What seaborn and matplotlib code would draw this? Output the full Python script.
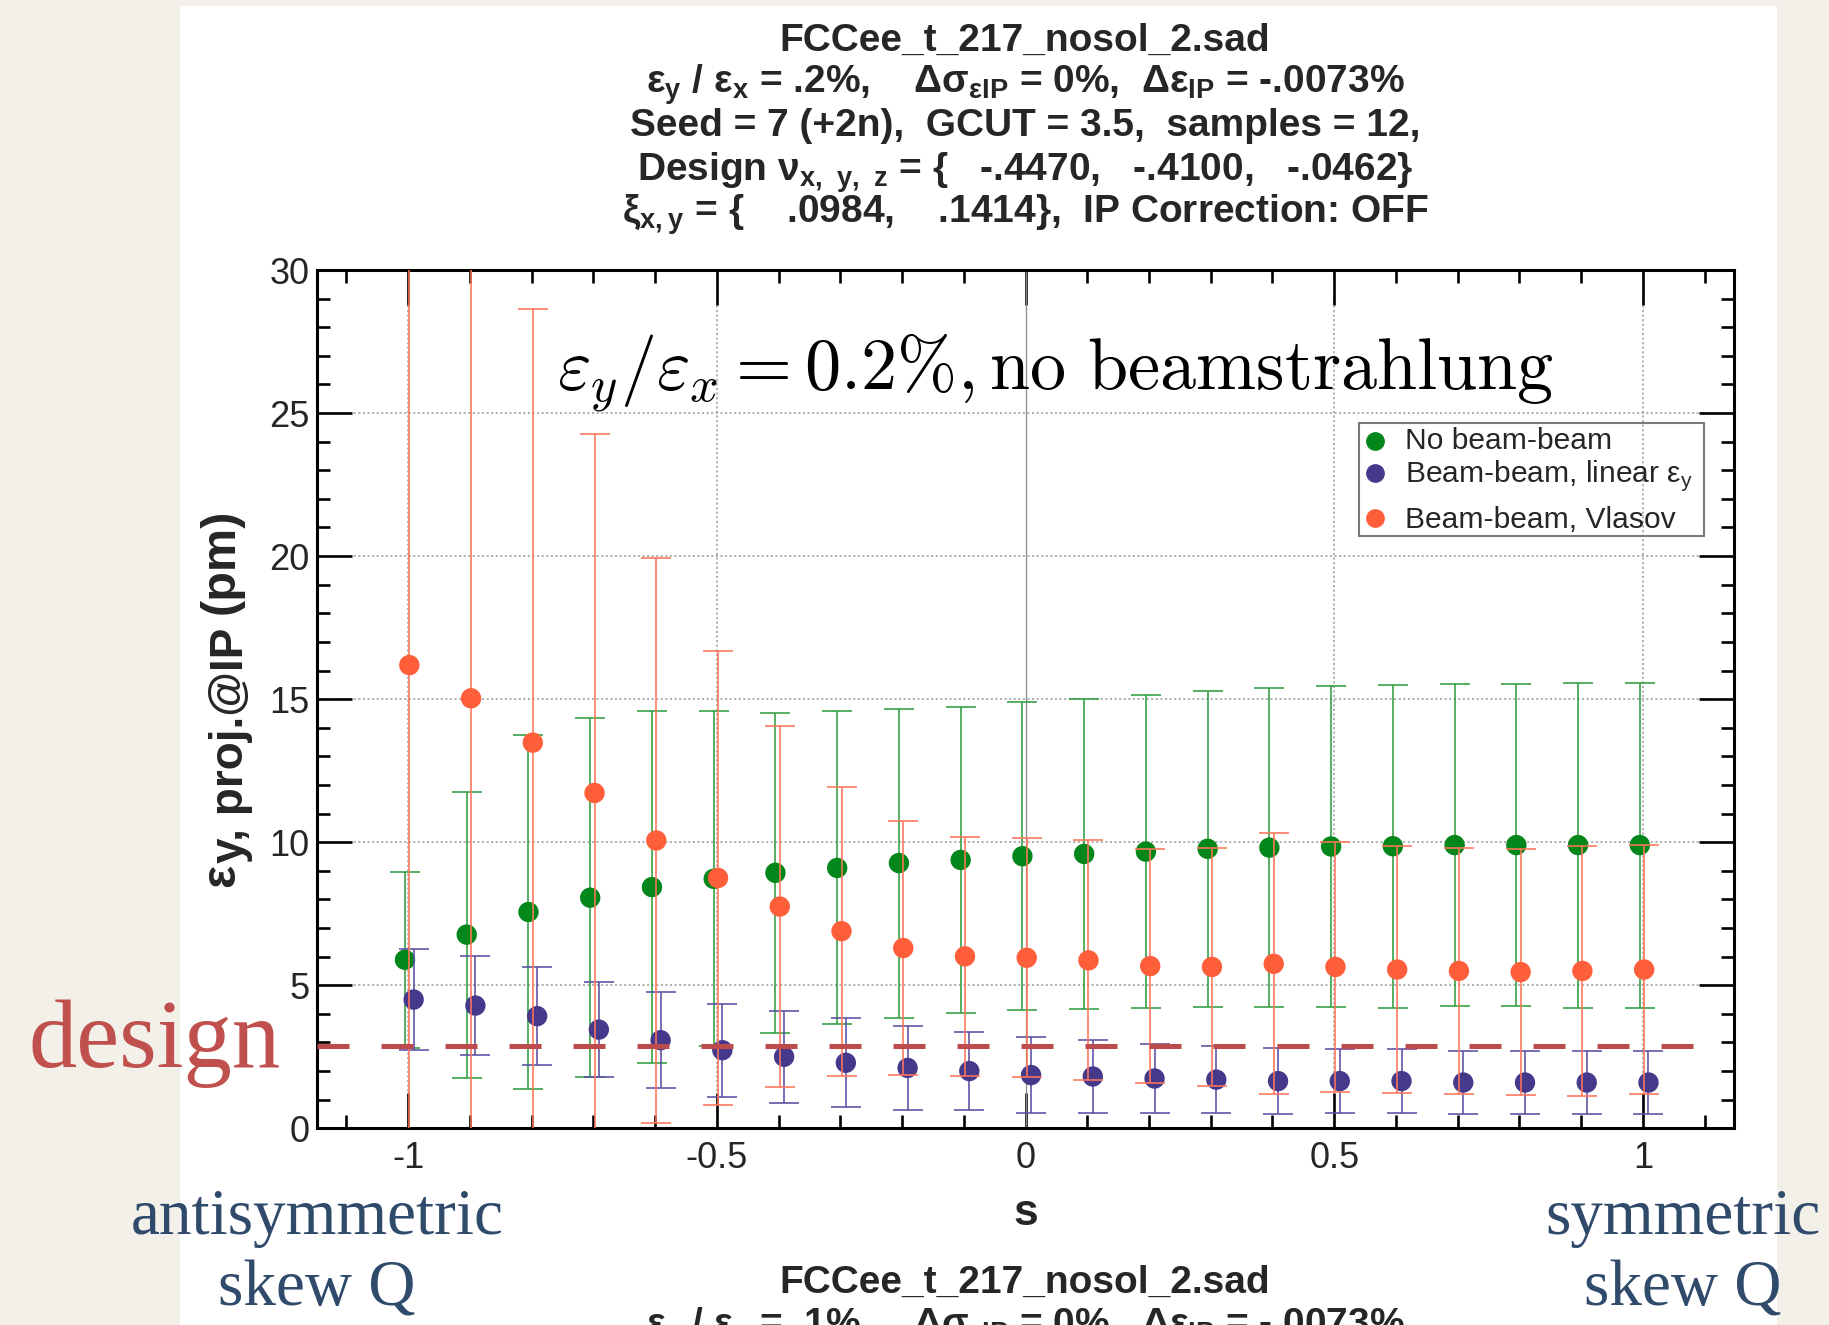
import numpy as np
import pandas as pd
import matplotlib
matplotlib.use("Agg")
import matplotlib.pyplot as plt
import seaborn as sns
from matplotlib.patches import Rectangle
from matplotlib.transforms import IdentityTransform

# ---- data -----------------------------------------------------------------
s_values = [-1.0, -0.9, -0.8, -0.7, -0.6, -0.5, -0.4, -0.3, -0.2, -0.1, 0.0,
            0.1, 0.2, 0.3, 0.4, 0.5, 0.6, 0.7, 0.8, 0.9, 1.0]

no_bb = [5.89, 6.77, 7.56, 8.06, 8.43, 8.72, 8.93, 9.10, 9.27, 9.38, 9.51,
         9.59, 9.67, 9.77, 9.81, 9.85, 9.86, 9.90, 9.90, 9.90, 9.90]
no_bb_err = [3.08, 5.00, 6.18, 6.27, 6.14, 5.85, 5.60, 5.47, 5.40, 5.35, 5.38,
             5.43, 5.46, 5.53, 5.57, 5.61, 5.64, 5.64, 5.64, 5.68, 5.68]

bb_linear = [4.50, 4.29, 3.92, 3.45, 3.08, 2.73, 2.50, 2.29, 2.11, 2.00, 1.86,
             1.81, 1.74, 1.70, 1.65, 1.65, 1.65, 1.60, 1.60, 1.60, 1.60]
bb_linear_err = [1.75, 1.72, 1.72, 1.67, 1.67, 1.63, 1.60, 1.55, 1.46, 1.37, 1.34,
                 1.27, 1.20, 1.16, 1.14, 1.13, 1.12, 1.09, 1.09, 1.09, 1.09]

bb_vlasov = [16.19, 15.03, 13.48, 11.72, 10.06, 8.75, 7.75, 6.89, 6.30, 6.01, 5.96,
             5.87, 5.67, 5.64, 5.75, 5.64, 5.55, 5.50, 5.46, 5.50, 5.55]
bb_vlasov_err = [21.0, 18.0, 15.14, 12.56, 9.88, 7.92, 6.32, 5.05, 4.43, 4.17, 4.18,
                 4.19, 4.10, 4.17, 4.56, 4.38, 4.30, 4.30, 4.31, 4.36, 4.36]

design_emittance = 2.86

series_labels = ["No beam-beam",
                 r"Beam-beam, linear ε$_\mathregular{y}$",
                 "Beam-beam, Vlasov"]
x_tick_values = [-1, -0.5, 0, 0.5, 1]
x_tick_labels = ["-1", "-0.5", "0", "0.5", "1"]
y_tick_values = [0, 5, 10, 15, 20, 25, 30]

title_lines = [
    "FCCee_t_217_nosol_2.sad",
    r"ε$_\mathregular{y}$ / ε$_\mathregular{x}$ = .2%,    Δσ$_\mathregular{εIP}$ = 0%,  Δε$_\mathregular{IP}$ = -.0073%",
    "Seed = 7 (+2n),  GCUT = 3.5,  samples = 12,",
    r"Design ν$_\mathregular{x,\ y,\ z}$ = {   -.4470,   -.4100,   -.0462}",
    r"ξ$_\mathregular{x,y}$ = {    .0984,    .1414},  IP Correction: OFF",
]
next_title_lines = [
    "FCCee_t_217_nosol_2.sad",
    r"ε$_\mathregular{y}$ / ε$_\mathregular{x}$ = .1%,    Δσ$_\mathregular{εIP}$ = 0%,  Δε$_\mathregular{IP}$ = -.0073%",
]
ylabel_parts = ["ε", "y, proj.@IP", "(pm)"]

# ---- style ----------------------------------------------------------------
sns.set_theme(style="ticks")
plt.rcParams["font.family"] = ["Liberation Sans", "DejaVu Sans"]

W, H = 1829, 1325
PAGE = "#F3F0EA"
GREEN, GREEN_BAR = "#03861A", "#2E9E3E"
BLUE, BLUE_BAR = "#46398C", "#5A4EA3"
ORANGE, ORANGE_BAR = "#FF5E3A", "#FF7558"
DESIGN = "#BE4B4B"
NOTE_BLUE = "#2F4A6B"

# frame geometry in pixels (top-left origin)
AX_L, AX_R, AX_T, AX_B = 316.7, 1734.3, 270.0, 1128.3
AX_W, AX_H = AX_R - AX_L, AX_B - AX_T


def ax_frac(px, py):
    return (px - AX_L) / AX_W, (AX_B - py) / AX_H


fig = plt.figure(figsize=(W / 100, H / 100), dpi=100, facecolor=PAGE)
fig.patches.append(Rectangle((180 / W, 0), (1777 - 180) / W, 1 - 6 / H,
                             transform=fig.transFigure, facecolor="white",
                             edgecolor="none", zorder=-1))

ax = fig.add_axes([AX_L / W, 1 - AX_B / H, AX_W / W, AX_H / H])
ax.set_facecolor("white")
ax.set_xlim(-1.148, 1.148)
ax.set_ylim(0, 30)

# dotted grid, solid line at s = 0
for gx in [-1, -0.5, 0.5, 1]:
    ax.axvline(gx, color="#9C9C9C", lw=1.1, dashes=(1.4, 1.6), zorder=0.5)
for gy in [5, 10, 15, 20, 25]:
    ax.axhline(gy, color="#9C9C9C", lw=1.1, dashes=(1.4, 1.6), zorder=0.5)
ax.axvline(0, color="#8A8A8A", lw=0.9, zorder=0.6)

df = pd.DataFrame({
    "s": s_values * 3,
    "emit": no_bb + bb_linear + bb_vlasov,
    "err": no_bb_err + bb_linear_err + bb_vlasov_err,
    "series": sum([[lab] * len(s_values) for lab in series_labels], []),
})

styles = [
    (series_labels[0], GREEN, GREEN_BAR, -0.005, 2),
    (series_labels[1], BLUE, BLUE_BAR, 0.009, 4),
    (series_labels[2], ORANGE, ORANGE_BAR, 0.002, 6),
]
for label, mcol, bcol, dodge, z in styles:
    sub = df[df["series"] == label].copy()
    sub["s_plot"] = sub["s"] + dodge
    ax.errorbar(sub["s_plot"], sub["emit"], yerr=sub["err"], fmt="none",
                ecolor=bcol, elinewidth=1.15, capsize=10.5, capthick=1.15,
                zorder=z)
    sns.scatterplot(data=sub, x="s_plot", y="emit", color=mcol, s=215,
                    edgecolor="none", linewidth=0, legend=False, ax=ax,
                    zorder=z + 1)

# design emittance line
ax.axhline(design_emittance, xmin=0, xmax=0.972, color=DESIGN, lw=3.6,
           dashes=(6.4, 6.4), zorder=10)

# axes frame and ticks
for sp in ax.spines.values():
    sp.set_linewidth(2.2)
    sp.set_color("black")
    sp.set_visible(True)
ax.set_xticks(x_tick_values)
ax.set_xticklabels(x_tick_labels)
ax.set_yticks(y_tick_values)
ax.set_yticklabels([str(v) for v in y_tick_values])
ax.xaxis.set_minor_locator(matplotlib.ticker.MultipleLocator(0.1))
ax.yaxis.set_minor_locator(matplotlib.ticker.MultipleLocator(1))
ax.tick_params(which="both", direction="in", top=True, right=True,
               color="black", width=1.9)
ax.tick_params(which="major", length=25)
ax.tick_params(which="minor", length=9.5)
ax.tick_params(axis="x", which="major", labelsize=26, pad=9)
ax.tick_params(axis="y", which="major", labelsize=26, pad=5)

ax.set_xlabel("s", fontsize=32, fontweight="bold")
ax.xaxis.set_label_coords(0.5, -0.099)
ax.xaxis.label.set_va("center")
ax.set_ylabel("")

# annotation inside the frame
ax.text(0.521, 0.880, r"$\varepsilon_y/\varepsilon_x = 0.2\%, \mathrm{no\ beamstrahlung}$",
        transform=ax.transAxes, ha="center", va="center", fontsize=52,
        math_fontfamily="cm", color="black", zorder=3)

# legend box with entries
lx0, ly0 = ax_frac(1359, 536)
lx1, ly1 = ax_frac(1704, 423)
ax.add_patch(Rectangle((lx0, ly0), lx1 - lx0, ly1 - ly0, transform=ax.transAxes,
                       facecolor="none", edgecolor="#7A7A7A", lw=1.5,
                       zorder=20, clip_on=False))
for lab, col, mark_y, base_y in zip(series_labels, (GREEN, BLUE, ORANGE),
                                    (441, 473, 518), (449, 482, 528)):
    mx, my = ax_frac(1375, mark_y)
    ax.plot([mx], [my], ls="none", marker="o", ms=13.5, color=col, mew=0,
            transform=ax.transAxes, zorder=21, clip_on=False)
    tx, ty = ax_frac(1405, base_y)
    ax.text(tx, ty, lab, transform=ax.transAxes, ha="left", va="baseline",
            fontsize=21.6, zorder=22)

# titles
for txt, yb in zip(title_lines, [51, 93, 136.5, 181, 223]):
    fig.text(1025 / W, 1 - yb / H, txt, ha="center", va="baseline",
             fontsize=28, fontweight="bold")
for txt, yb in zip(next_title_lines, [1293, 1336]):
    fig.text(1025 / W, 1 - yb / H, txt, ha="center", va="baseline",
             fontsize=28, fontweight="bold")

# vertical axis title, built from pieces so the subscript keeps a large size
fig.canvas.draw()
renderer = fig.canvas.get_renderer()
cursor = H - 887.0
for part, size, base_x, gap in zip(ylabel_parts, (35, 33, 35), (234, 243, 234),
                                   (0, 1, 14)):
    cursor += gap
    t = fig.text(base_x, cursor, part, transform=IdentityTransform(),
                 rotation=90, rotation_mode="anchor", ha="left", va="baseline",
                 fontsize=size, fontweight="bold")
    cursor += t.get_window_extent(renderer).height

# side notes
serif = ["Liberation Serif", "DejaVu Serif"]
fig.text(29 / W, 1 - 1067 / H, "design", ha="left", va="baseline",
         fontsize=69.5, family=serif, color="#C0504D")
fig.text(317 / W, 1 - 1234 / H, "antisymmetric", ha="center", va="baseline",
         fontsize=47, family=serif, color=NOTE_BLUE)
fig.text(317 / W, 1 - 1306 / H, "skew Q", ha="center", va="baseline",
         fontsize=47, family=serif, color=NOTE_BLUE)
fig.text(1683 / W, 1 - 1234 / H, "symmetric", ha="center", va="baseline",
         fontsize=47, family=serif, color=NOTE_BLUE)
fig.text(1683 / W, 1 - 1306 / H, "skew Q", ha="center", va="baseline",
         fontsize=47, family=serif, color=NOTE_BLUE)

fig.savefig("out.png", dpi=100, facecolor=PAGE)
